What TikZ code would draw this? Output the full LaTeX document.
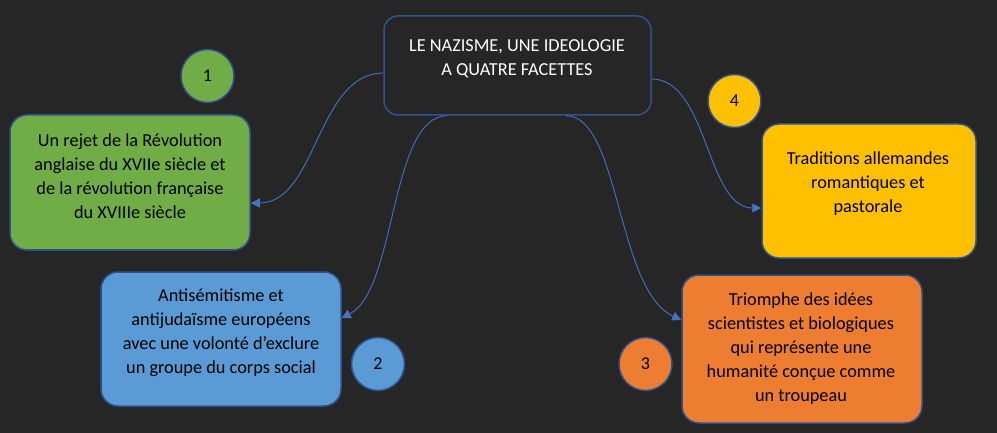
\documentclass[tikz,border=0pt]{standalone}
\usepackage{fontspec}
\setmainfont{Carlito}
\usetikzlibrary{arrows.meta}
\definecolor{bg}{HTML}{262626}
\definecolor{bord}{HTML}{2F528F}
\definecolor{conn}{HTML}{4472C4}
\definecolor{cgreen}{HTML}{70AD47}
\definecolor{cyellow}{HTML}{FFC000}
\definecolor{cblue}{HTML}{5B9BD5}
\definecolor{corange}{HTML}{ED7D31}
\begin{document}
\begin{tikzpicture}[x=1pt,y=-1pt,
  box/.style={draw=bord, line width=1.5pt, rounded corners=17pt, inner sep=0pt},
  num/.style={circle, draw=bord, line width=1.5pt, minimum size=53pt, inner sep=0pt, font=\fontsize{18}{20}\selectfont},
  txt/.style={align=center, font=\fontsize{18.3}{24}\selectfont, inner sep=0pt},
  link/.style={draw=conn, line width=0.9pt, -{Triangle[length=9pt,width=9pt]}}]
\fill[bg] (0,0) rectangle (997,433);
\useasboundingbox (0,0) rectangle (997,433);
% central
\node[box, fill=bg, minimum width=267pt, minimum height=99pt, rounded corners=14pt] (c) at (517.5,65.5) {};
\node[txt, text=white] (ct) at (517,58.5) {LE NAZISME, UNE IDEOLOGIE\\A QUATRE FACETTES};
% green
\node[box, fill=cgreen, minimum width=240pt, minimum height=135pt] (g) at (130,182.5) {};
\node[txt] (gt) at (130,176) {Un rejet de la Révolution\\anglaise du XVIIe siècle et\\de la révolution française\\du XVIIIe siècle};
% yellow
\node[box, fill=cyellow, minimum width=214pt, minimum height=134pt] (y) at (869,191) {};
\node[txt] (yt) at (868,184) {Traditions allemandes\\romantiques et\\pastorale};
% blue
\node[box, fill=cblue, minimum width=240pt, minimum height=134pt] (b) at (221,339) {};
\node[txt] (bt) at (221,333) {Antisémitisme et\\antijudaïsme européens\\avec une volonté d’exclure\\un groupe du corps social};
% orange
\node[box, fill=corange, minimum width=240pt, minimum height=148pt] (o) at (802,349) {};
\node[txt] (ot) at (801,349) {Triomphe des idées\\scientistes et biologiques\\qui représente une\\humanité conçue comme\\un troupeau};
% numbers
\node[num, fill=cgreen] (n1) at (207.5,76) {1};
\node[num, fill=cblue] (n2) at (378,364) {2};
\node[num, fill=corange] (n3) at (645.5,364) {3};
\node[num, fill=cyellow] (n4) at (734.5,101) {4};
% connectors
\draw[link] ([yshift=-7.5pt]c.west) .. controls +(-66,0) and +(66,0) .. ([yshift=-20.5pt]g.east);
\draw[link] ([xshift=-70.5pt]c.south) .. controls +(-57,0) and +(55,-28) .. ([yshift=21pt]b.east);
\draw[link] ([xshift=48.5pt]c.south) .. controls +(54,0) and +(-65,-30) .. ([yshift=29pt]o.west);
\draw[link] ([yshift=-13.5pt]c.east) .. controls +(56,0) and +(-55,0) .. ([yshift=-17pt]y.west);
\end{tikzpicture}
\end{document}
